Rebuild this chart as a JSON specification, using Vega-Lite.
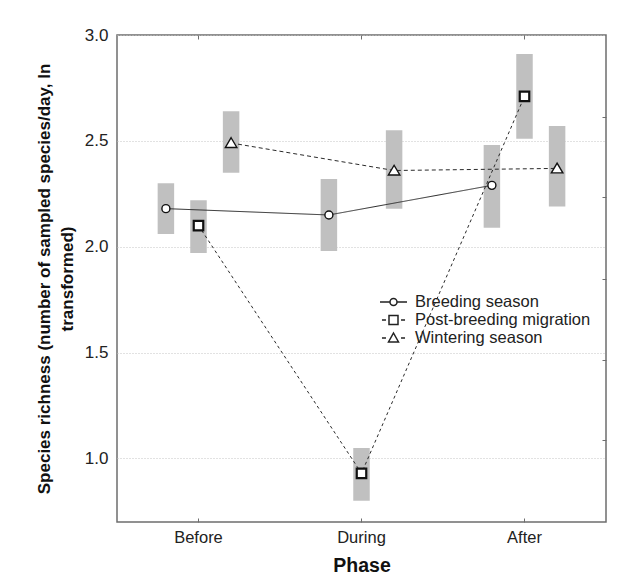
{
  "$schema": "https://vega.github.io/schema/vega-lite/v6.json",
  "width": 489,
  "height": 487,
  "autosize": {"type": "none"},
  "padding": {"left": 117, "top": 35, "right": 23, "bottom": 58},
  "background": "white",
  "config": {
    "font": "Liberation Sans",
    "view": {"stroke": "#6e6e6e", "strokeWidth": 1.5},
    "axis": {"labelColor": "#222222", "titleColor": "#111111", "labelFont": "Liberation Sans", "titleFont": "Liberation Sans"}
  },
  "data": {
    "values": [
      {"phase": "Before", "season": "Breeding season", "mean": 2.18, "lo": 2.06, "hi": 2.30},
      {"phase": "Before", "season": "Post-breeding migration", "mean": 2.10, "lo": 1.97, "hi": 2.22},
      {"phase": "Before", "season": "Wintering season", "mean": 2.49, "lo": 2.35, "hi": 2.64},
      {"phase": "During", "season": "Breeding season", "mean": 2.15, "lo": 1.98, "hi": 2.32},
      {"phase": "During", "season": "Post-breeding migration", "mean": 0.93, "lo": 0.80, "hi": 1.05},
      {"phase": "During", "season": "Wintering season", "mean": 2.36, "lo": 2.18, "hi": 2.55},
      {"phase": "After", "season": "Breeding season", "mean": 2.29, "lo": 2.09, "hi": 2.48},
      {"phase": "After", "season": "Post-breeding migration", "mean": 2.71, "lo": 2.51, "hi": 2.91},
      {"phase": "After", "season": "Wintering season", "mean": 2.37, "lo": 2.19, "hi": 2.57}
    ]
  },
  "layer": [
    {
      "encoding": {
        "x": {
          "field": "phase", "type": "nominal",
          "scale": {"type": "band", "domain": ["Before", "During", "After"], "paddingInner": 0, "paddingOuter": 0},
          "axis": {
            "title": "Phase", "labelAngle": 0, "tickSize": -4, "tickColor": "#6e6e6e", "domain": false, "grid": false,
            "labelFontSize": 16.5, "labelPadding": 11, "titleFontSize": 19.5, "titleFontWeight": "bold", "titlePadding": 11
          }
        },
        "xOffset": {
          "field": "season", "type": "nominal",
          "scale": {"type": "band", "domain": ["Breeding season", "Post-breeding migration", "Wintering season"], "paddingInner": 0, "paddingOuter": 1.83}
        }
      },
      "layer": [
        {
          "mark": {"type": "bar", "color": "#c0c0c0", "width": 16.5},
          "encoding": {
            "y": {
              "field": "lo", "type": "quantitative",
              "scale": {"domain": [0.7, 3.0], "nice": false, "zero": false},
              "axis": {
                "title": ["Species richness (number of sampled species/day, ln", "transformed)"],
                "values": [1, 1.5, 2, 2.5, 3], "format": ".1f",
                "grid": true, "gridDash": [1, 2], "gridColor": "#c4c4c4", "ticks": false, "domain": false,
                "labelFontSize": 17, "labelPadding": 9,
                "titleFontSize": 17, "titleFontWeight": "bold", "titleLineHeight": 23, "titlePadding": 8
              }
            },
            "y2": {"field": "hi"}
          }
        },
        {
          "mark": {"type": "line", "color": "#2a2a2a", "strokeWidth": 1},
          "encoding": {
            "y": {"field": "mean", "type": "quantitative"},
            "detail": {"field": "season"},
            "strokeDash": {
              "condition": [
                {"test": "datum.season === 'Post-breeding migration'", "value": [3, 3]},
                {"test": "datum.season === 'Wintering season'", "value": [4, 3]}
              ],
              "value": [1, 0]
            },
            "order": {"value": null}
          }
        },
        {
          "mark": {"type": "point", "filled": true, "fill": "white", "stroke": "#222222", "strokeWidth": 1.3, "opacity": 0, "size": 256},
          "encoding": {
            "y": {"field": "mean", "type": "quantitative"},
            "shape": {
              "field": "season", "type": "nominal",
              "scale": {
                "domain": ["Breeding season", "Post-breeding migration", "Wintering season"],
                "range": [
                  "M-1.6875,0H-0.4375M0.4375,0H1.6875M0.4375,0A0.4375,0.4375,0,1,1,-0.4375,0A0.4375,0.4375,0,1,1,0.4375,0Z",
                  "M-1.44,0H-0.94M0.94,0H1.44M-0.5625,-0.5625H0.5625V0.5625H-0.5625Z",
                  "M-1.44,0H-0.94M0.94,0H1.44M0,-0.625L0.625,0.5H-0.625Z"
                ]
              },
              "legend": {
                "orient": "none", "legendX": 267.5, "legendY": 258, "title": null,
                "labelFontSize": 16.5, "labelColor": "#222222", "labelFont": "Liberation Sans", "labelLimit": 400,
                "symbolSize": 256, "labelOffset": 12.5, "rowPadding": -3,
                "encode": {
                  "symbols": {
                    "opacity": {"value": 1},
                    "fill": {"value": "white"},
                    "fillOpacity": {"value": 1},
                    "stroke": {"value": "#222222"},
                    "strokeWidth": {"value": 1.3}
                  }
                }
              }
            }
          }
        }
      ]
    },
    {
      "mark": {"type": "point", "filled": true, "fill": "white", "stroke": "#111111", "opacity": 1, "size": 100},
      "encoding": {
        "x": {
          "field": "phase", "type": "nominal",
          "scale": {"type": "band", "domain": ["Before", "During", "After"]},
          "axis": {"orient": "top", "labels": false, "title": null, "tickSize": -4, "tickColor": "#6e6e6e", "domain": false, "grid": false}
        },
        "xOffset": {"field": "season", "type": "nominal"},
        "y": {
          "field": "mean", "type": "quantitative",
          "axis": {"orient": "right", "labels": false, "title": null, "values": [2.615, 2.233, 1.848, 1.467, 1.088], "tickSize": -4, "tickColor": "#6e6e6e", "domain": false, "grid": false}
        },
        "shape": {
          "condition": [
            {"test": "datum.season === 'Post-breeding migration'", "value": "M-0.95,-0.95H0.95V0.95H-0.95Z"},
            {"test": "datum.season === 'Wintering season'", "value": "M0,-1.05L1.15,0.9H-1.15Z"}
          ],
          "value": "M0.8,0A0.8,0.8,0,1,1,-0.8,0A0.8,0.8,0,1,1,0.8,0Z"
        },
        "strokeWidth": {
          "condition": {"test": "datum.season === 'Post-breeding migration'", "value": 2.2},
          "value": 1.4
        }
      }
    }
  ],
  "resolve": {"axis": {"x": "independent", "y": "independent"}}
}
